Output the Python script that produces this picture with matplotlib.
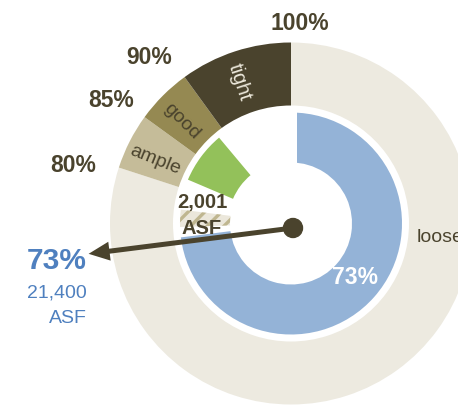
import numpy as np
import matplotlib
matplotlib.use('Agg')
import matplotlib.pyplot as plt
from matplotlib.patches import Wedge, FancyArrow, Circle, Rectangle

# outer scale: bands of capacity use
band_names = ['loose', 'ample', 'good', 'tight']
band_edges = [0.0, 0.80, 0.85, 0.90, 1.00]
threshold_labels = ['80%', '85%', '90%', '100%']

# inner ring: current use and the additional area
utilisation = 0.73
utilised_asf = '21,400'
hatched_range = (0.745, 0.770)
added_range = (0.814, 0.889)
added_asf = '2,001'

band_colors = ['#edeae0', '#c5bc99', '#958952', '#4a432d']
band_text_colors = ['#4a432d', '#4a432d', '#4a432d', '#ebe7da']
dark = '#4a432d'
blue = '#94b3d7'
blue_text = '#4f80bf'
green = '#93c15a'

W, H = 458, 411
cx, cy = 291, 223.5

plt.rcParams['font.family'] = ['Liberation Sans', 'DejaVu Sans']
plt.rcParams['hatch.linewidth'] = 2.4

fig = plt.figure(figsize=(W / 100, H / 100), dpi=100)
ax = fig.add_axes([0, 0, 1, 1])
ax.set_xlim(-cx, W - cx)
ax.set_ylim(-(H - cy), cy)
ax.axis('off')


def ang(p):
    # 0% at twelve o'clock, going clockwise
    return 90 - 360 * p


def polar(r, a):
    return r * np.cos(np.radians(a)), r * np.sin(np.radians(a))


def ring(p0, p1, r, width, **kw):
    ax.add_patch(Wedge((0, 0), r, ang(p1), ang(p0), width=width, **kw))


# outer bands
R_out, R_in = 181, 118
for i, name in enumerate(band_names):
    ring(band_edges[i], band_edges[i + 1], R_out, R_out - R_in,
         facecolor=band_colors[i], linewidth=0)

# band names, written along the radius
for i, name in enumerate(band_names):
    mid = ang((band_edges[i] + band_edges[i + 1]) / 2)
    if name == 'loose':
        x, y = polar(150, -5.5)
        rot = 0
        size = 14
    else:
        x, y = polar(150, mid + 2)
        rot = mid - 180 + (5 if name == 'ample' else 0)
        size = 14 if name != 'tight' else 14.5
    ax.text(x, y, name, color=band_text_colors[i], fontsize=size,
            rotation=rot, ha='center', va='center', rotation_mode='anchor')

# threshold labels
lab_r = [226, 218, 218, 200]
lab_da = [3, 1.5, 4.6, -2.6]
for i, lab in enumerate(threshold_labels):
    x, y = polar(lab_r[i], ang(band_edges[i + 1]) + lab_da[i])
    ax.text(x, y, lab, color=dark, fontsize=16.5, fontweight='bold',
            ha='center', va='center')

# inner ring
r2, w2 = 111, 50
ring(0, utilisation, r2, w2, facecolor=blue, linewidth=0)
# small white gap where the blue ring starts
ax.add_patch(Rectangle((-2, r2 - w2 - 2), 8, w2 + 4, facecolor='white', linewidth=0))
ring(hatched_range[0], hatched_range[1], r2, w2, facecolor='#ebe7db',
     edgecolor='#bfb690', hatch='//', linewidth=0)
ring(added_range[0], added_range[1], r2 + 1, w2 - 1, facecolor=green, linewidth=0)

x, y = polar(84, -40)
ax.text(x, y, f'{utilisation:.0%}', color='white', fontsize=16.5,
        fontweight='bold', ha='center', va='center')

ax.text(-89, 21.5, added_asf, color=dark, fontsize=14.5, fontweight='bold',
        ha='center', va='center')
ax.text(-89, -5, 'ASF', color=dark, fontsize=14.5, fontweight='bold',
        ha='center', va='center')

# pointer
px, py = 2, -4.5
a = ang(utilisation)
L = 206
dx, dy = polar(L, a)
ax.add_patch(FancyArrow(px, py, dx, dy, width=5, head_width=19, head_length=21,
                        length_includes_head=True, color=dark, linewidth=0))
ax.add_patch(Circle((px, py), 9.5, color=dark, zorder=5))

tx = px + dx - 2
ax.text(tx, py + dy - 7, f'{utilisation:.0%}', color=blue_text, fontsize=21.5,
        fontweight='bold', ha='right', va='center')
ax.text(tx, py + dy - 39, utilised_asf, color=blue_text, fontsize=14,
        ha='right', va='center')
ax.text(tx, py + dy - 65, 'ASF', color=blue_text, fontsize=14,
        ha='right', va='center')

fig.savefig('out.png', dpi=100)
